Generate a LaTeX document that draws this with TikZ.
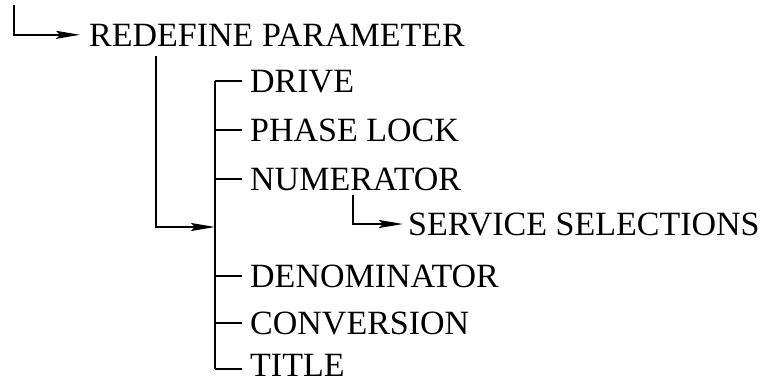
\documentclass[tikz,border=0pt]{standalone}
\usepackage{fontspec}
\setmainfont{Liberation Serif}
\usetikzlibrary{arrows.meta,calc}
\tikzset{
  lbl/.style={anchor=base west, inner sep=0pt, font=\fontsize{34}{40}\selectfont},
  ln/.style={line width=1.6pt},
  arr/.style={ln, -{Stealth[length=24pt, width=8pt, inset=4pt]}},
}
\begin{document}
\begin{tikzpicture}[x=1pt, y=-1pt]
\useasboundingbox (0,0) rectangle (764,383);
% text nodes
\node[lbl] (redef) at (89,46) {REDEFINE PARAMETER};
\node[lbl] (drive) at (250,92) {DRIVE};
\node[lbl] (phase) at (250,141) {PHASE LOCK};
\node[lbl] (numer) at (250,190) {NUMERATOR};
\node[lbl] (serv) at (408,235) {SERVICE SELECTIONS};
\node[lbl] (denom) at (250,287) {DENOMINATOR};
\node[lbl] (conv) at (250,334) {CONVERSION};
\node[lbl] (title) at (250,376) {TITLE};
% coordinates
\coordinate (start) at (14,5);
\coordinate (rd) at (156,56);
\coordinate (bus) at (215,0);
\coordinate (join) at (215,227);
\coordinate (nd) at (353,195);
\coordinate (tb) at ([yshift=7pt]title.base west);
% top arrow
\draw[arr] (start) |- ([xshift=-9pt]redef.west);
% redefine to bus
\draw[arr] (rd) |- (join);
% bus
\draw[ln] (drive.west -| bus) -- (tb -| bus);
\foreach \n in {drive,phase,numer,denom,conv}{
  \draw[ln] (\n.west -| bus) -- ([xshift=-8pt]\n.west);
}
\draw[ln] (tb -| bus) -- ([xshift=-8pt]tb);
% numerator to service selections
\draw[arr] (nd) |- ([xshift=-5pt]serv.west);
\end{tikzpicture}
\end{document}
